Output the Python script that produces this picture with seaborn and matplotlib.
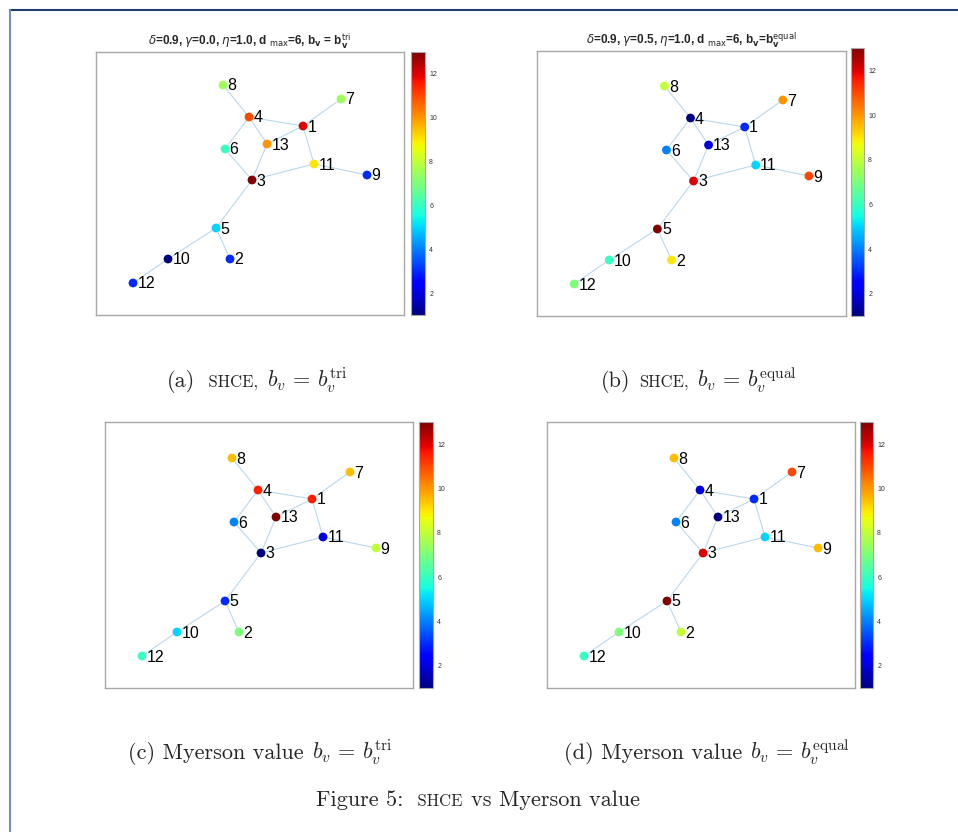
import seaborn as sns
import pandas as pd
import matplotlib.pyplot as plt
import numpy as np
from matplotlib.lines import Line2D
from matplotlib.offsetbox import TextArea, HPacker, AnchoredOffsetbox
import matplotlib as mpl

sns.set_style("white")
plt.rcParams["font.family"] = ["Liberation Sans", "DejaVu Sans"]

# graph layout (same for all four panels)
nodes = [1, 2, 3, 4, 5, 6, 7, 8, 9, 10, 11, 12, 13]
node_x = [207, 134, 156, 153, 120, 129, 245, 127, 271, 72, 218, 37, 171]
node_y = [189, 56, 135, 198, 87, 166, 216, 230, 140, 56, 151, 32, 171]
edge_src = [8, 4, 4, 4, 1, 1, 1, 11, 11, 6, 13, 3, 5, 5, 10]
edge_dst = [4, 1, 13, 6, 7, 13, 11, 9, 3, 3, 3, 5, 10, 2, 12]

# rank of each node (ties averaged), node order 1..13
shce_tri = [12, 3, 13, 11, 5, 6, 7.5, 7.5, 3, 1, 9, 3, 10]
shce_equal = [3, 9, 12, 1, 13, 4, 10, 8, 11, 6, 5, 7, 2]
myerson_tri = [11.5, 7, 1, 11.5, 3, 4, 9.5, 9.5, 8, 5, 2, 6, 13]
myerson_equal = [3, 8, 12, 2, 13, 4, 11, 9.5, 9.5, 7, 5, 6, 1]

titles = [
    r"$\delta$=0.9, $\gamma$=0.0, $\eta$=1.0, d $_{\mathrm{max}}$=6, b$_{\mathbf{v}}$ = b$_{\mathbf{v}}^{\mathrm{tri}}$",
    r"$\delta$=0.9, $\gamma$=0.5, $\eta$=1.0, d $_{\mathrm{max}}$=6, b$_{\mathbf{v}}$=b$_{\mathbf{v}}^{\mathrm{equal}}$",
    None,
    None,
]

W, H = 958, 832
fig = plt.figure(figsize=(W / 100, H / 100), dpi=100)

# pixel boxes: axes (left, top, right, bottom), colorbar (left, top, right, bottom)
boxes = [
    ((96, 52, 404, 315), (411, 52, 425, 315)),
    ((537, 51, 846, 316), (851, 48, 864, 316)),
    ((105, 422, 413, 688), (419, 422, 433, 688)),
    ((547, 422, 855, 688), (860, 422, 873, 688)),
]


def fig_rect(b):
    l, t, r, bt = b
    return [l / W, 1 - bt / H, (r - l) / W, (bt - t) / H]


nodes_df = pd.DataFrame({"node": nodes, "x": node_x, "y": node_y})
pos = nodes_df.set_index("node")
edges_df = pd.DataFrame({
    "edge": np.repeat(np.arange(len(edge_src)), 2),
    "x": [pos.loc[n, "x"] for pair in zip(edge_src, edge_dst) for n in pair],
    "y": [pos.loc[n, "y"] for pair in zip(edge_src, edge_dst) for n in pair],
})

jet = mpl.colormaps["jet"]
norm = mpl.colors.Normalize(1, 13)
for ranks, title, (abox, cbox) in zip([shce_tri, shce_equal, myerson_tri, myerson_equal], titles, boxes):
    ax = fig.add_axes(fig_rect(abox))
    df = nodes_df.assign(rank=ranks)
    sns.lineplot(data=edges_df, x="x", y="y", units="edge", estimator=None, sort=False,
                 color="#b9d8ec", linewidth=0.8, ax=ax, zorder=1)
    sns.scatterplot(data=df, x="x", y="y", hue="rank", palette=jet, hue_norm=(1, 13),
                    s=40, linewidth=0, legend=False, ax=ax, zorder=3)
    for _, row in df.iterrows():
        ax.text(row.x + 4.5, row.y - 1, str(int(row.node)), fontsize=11.5, color="black",
                ha="left", va="center", zorder=4)
    ax.set_xlim(0, 308)
    ax.set_ylim(0, abox[3] - abox[1])
    ax.set_xticks([])
    ax.set_yticks([])
    ax.set_xlabel("")
    ax.set_ylabel("")
    for sp in ax.spines.values():
        sp.set_color("#a8a8a8")
        sp.set_linewidth(1.0)
    if title:
        ax.set_title(title, fontsize=8.5, fontweight="bold", pad=5)

    cax = fig.add_axes(fig_rect(cbox))
    cb = fig.colorbar(mpl.cm.ScalarMappable(norm=norm, cmap=jet), cax=cax, ticks=[2, 4, 6, 8, 10, 12])
    cb.outline.set_edgecolor("#a8a8a8")
    cb.outline.set_linewidth(0.8)
    cax.tick_params(labelsize=5, direction="in", length=2.5, width=0.6, color="#444444",
                    labelcolor="#333333", pad=3)

# captions
cap = dict(family="cmr10", size=16, math_fontfamily="cm")
sc = dict(family="cmr10", size=12)


def caption(parts, cx, cy, sep=6):
    box = HPacker(children=[TextArea(t, textprops=p) for t, p in parts], align="baseline", pad=0, sep=sep)
    fig.add_artist(AnchoredOffsetbox(loc="center", child=box, pad=0, borderpad=0, frameon=False,
                                     bbox_to_anchor=(cx / W, 1 - cy / H), bbox_transform=fig.transFigure))


caption([("(a)", cap), (" SHCE,", sc), (r"$b_v\,=\,b_v^{\mathrm{tri}}$", cap)], 257, 380)
caption([("(b)", cap), ("SHCE,", sc), (r"$b_v\,=\,b_v^{\mathrm{equal}}$", cap)], 699, 380)
caption([("(c) Myerson value", cap), (r"$b_v\,=\,b_v^{\mathrm{tri}}$", cap)], 260, 752)
caption([("(d) Myerson value", cap), (r"$b_v\,=\,b_v^{\mathrm{equal}}$", cap)], 707, 752)
caption([("Figure 5:", cap), (" SHCE", sc), ("vs Myerson value", cap)], 478, 800)

# page edge
fig.add_artist(Line2D([9.5 / W, 1], [1 - 9.5 / H, 1 - 9.5 / H], transform=fig.transFigure,
                      color="#1f3d6e", linewidth=1.5))
fig.add_artist(Line2D([9.5 / W, 9.5 / W], [0, 1 - 9.5 / H], transform=fig.transFigure,
                      color="#7090c0", linewidth=1.5))

fig.savefig("out.png", dpi=100)
